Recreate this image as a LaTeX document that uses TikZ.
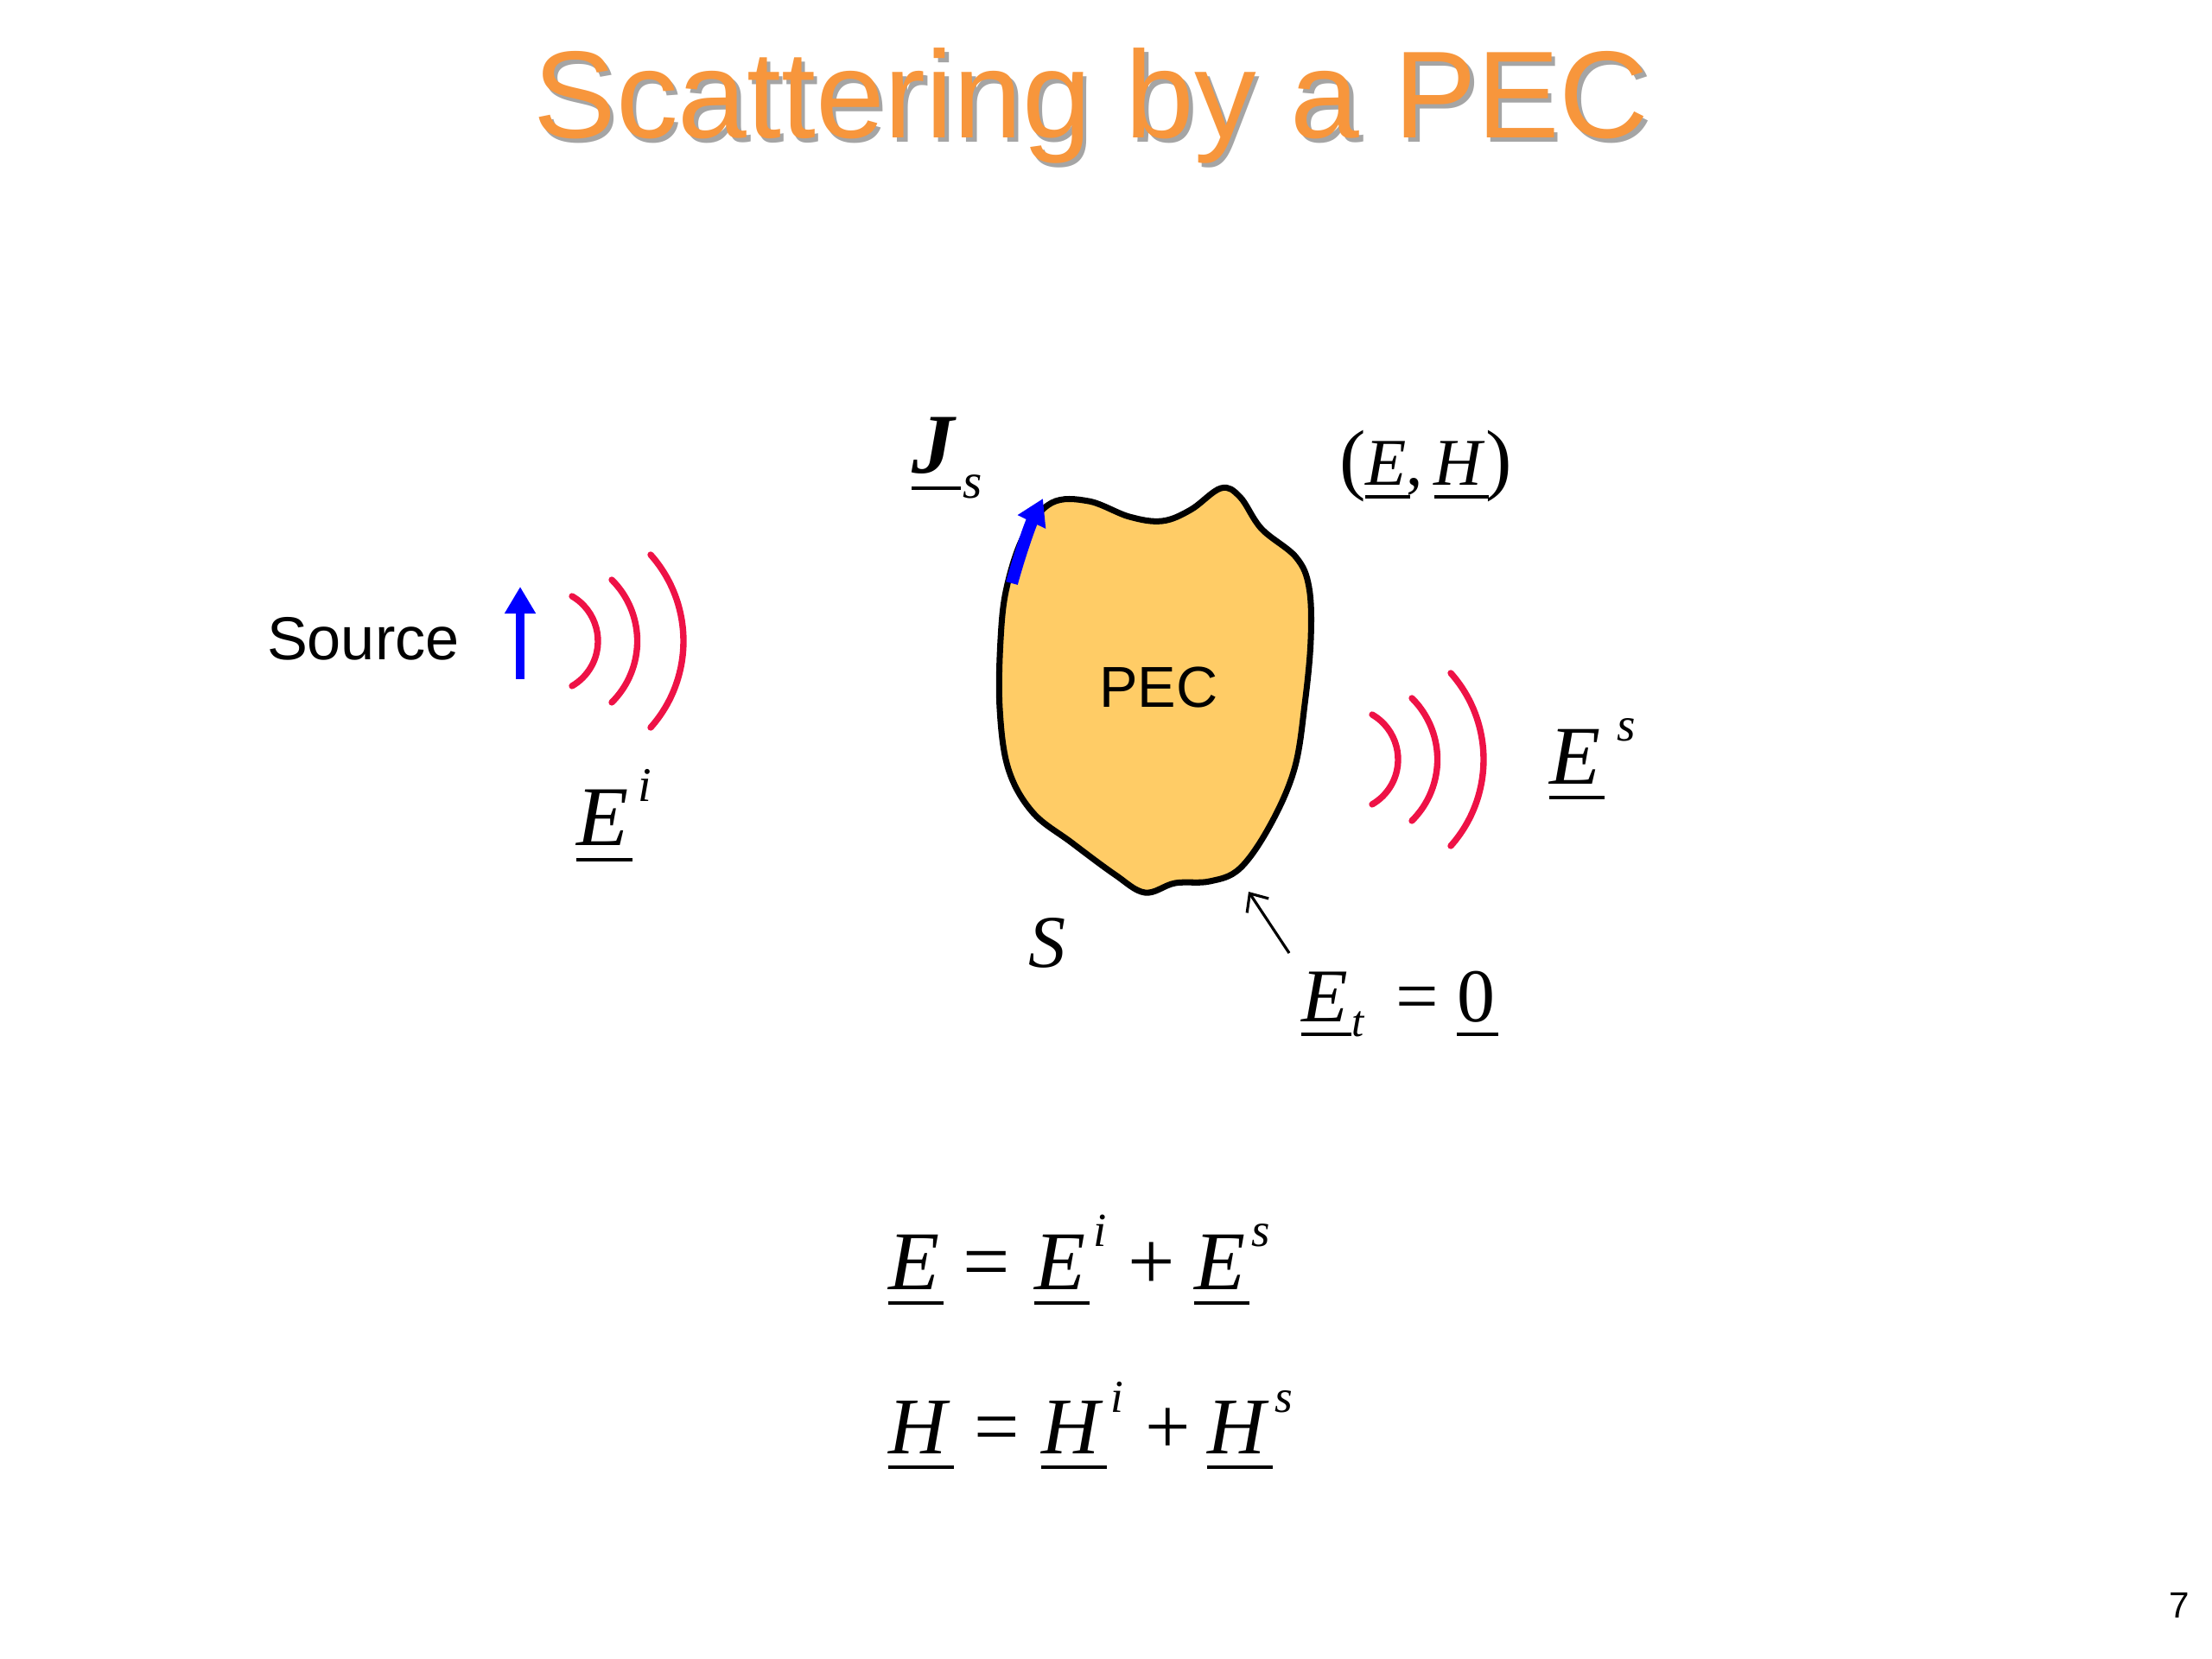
\documentclass[tikz,border=0pt]{standalone}
\usepackage{fontspec}
\setmainfont{Liberation Serif}
\newfontfamily\arialf{Liberation Sans}
\usepackage{graphicx}
\usetikzlibrary{arrows.meta}
\definecolor{titleorange}{RGB}{247,150,60}
\definecolor{shadowgray}{RGB}{165,165,165}
\definecolor{wavered}{RGB}{238,18,70}
\definecolor{pecfill}{RGB}{255,204,102}
\newcommand{\setsz}[1]{\fontsize{#1}{#1}\selectfont}
\newcommand{\ulv}[1]{\leavevmode\setbox0=\hbox{#1}\rlap{\rule[-0.19em]{\dimexpr\wd0+0.05em\relax}{0.042em}}\box0}
\newcommand{\supr}[2][0.08em]{\hspace{#1}\raisebox{0.51em}{\scalebox{0.57}{\itshape #2}}}
\newcommand{\subr}[3]{\hspace{#1}\raisebox{-#2}{\scalebox{0.58}{\itshape #3}}}
\tikzset{
  lbl/.style={inner sep=0pt, outer sep=0pt, anchor=base west},
  wave/.style={draw=wavered, line width=2.1pt, line cap=round},
}
\begin{document}
\begin{tikzpicture}
\useasboundingbox (0,0) rectangle (25.6,-19.2);
% title
\node[font=\arialf\setsz{40.8pt}, text=shadowgray, anchor=base, inner sep=0pt] (titleshadow) at (12.675,-1.65) {Scattering by a PEC};
\node[font=\arialf\setsz{40.8pt}, text=titleorange, anchor=base, inner sep=0pt] (title) at (12.63,-1.60) {Scattering by a PEC};
% source
\node[lbl, font=\arialf\setsz{20pt}] (src) at (3.09,-7.63) {Source};
\coordinate (srcTail) at (6.02,-7.86);
\coordinate (srcTip) at (6.02,-6.79);
\draw[blue, line width=3.1pt, -{Triangle[length=0.31cm, width=0.34cm]}] (srcTail) -- (srcTip);
% incident waves
\draw[wave] (6.62,-6.90) arc[start angle=60, end angle=-60, radius=0.60];
\draw[wave] (7.08,-6.71) arc[start angle=45.2, end angle=-45.2, radius=1.00];
\draw[wave] (7.53,-6.42) arc[start angle=41.6, end angle=-41.6, radius=1.506];
\node[lbl, font=\setsz{28pt}] (Ei) at (6.67,-9.78) {\ulv{\textit{E}}\supr[0.12em]{i}};
% PEC body
\draw[black, line width=2pt, fill=pecfill] plot[smooth cycle, tension=0.6] coordinates {
 (12.17,-5.82) (12.60,-5.80) (13.07,-5.98) (13.45,-6.03) (13.78,-5.90)
 (14.13,-5.65) (14.35,-5.75) (14.60,-6.12) (15.00,-6.45) (15.15,-6.80)
 (15.17,-7.40) (15.10,-8.15) (14.98,-8.90) (14.70,-9.55) (14.35,-10.05)
 (14.00,-10.20) (13.60,-10.22) (13.25,-10.33) (12.90,-10.12) (12.40,-9.75)
 (11.95,-9.40) (11.67,-8.90) (11.57,-8.20) (11.58,-7.40) (11.65,-6.80) (11.85,-6.20) };
\node[font=\arialf\setsz{19pt}, anchor=base, inner sep=0pt] (pec) at (13.41,-8.18) {PEC};
% surface current
\coordinate (jsTail) at (11.71,-6.75);
\coordinate (jsTip) at (12.07,-5.77);
\draw[blue, line width=4pt, -{Triangle[length=0.30cm, width=0.34cm]}] (jsTail) .. controls (11.80,-6.42) and (11.92,-6.08) .. (jsTip);
\node[lbl, font=\setsz{28pt}] (Js) at (10.55,-5.48) {\ulv{\textbf{\textit{J}}}\subr{0.08em}{0.29em}{s}};
% total field label
\node[lbl, font=\setsz{22pt}] (EH) at (15.50,-5.62) {{\setsz{26pt}(}\ulv{\textit{E}},\,\ulv{\textit{H}}{\setsz{26pt})}};
% scattered waves
\draw[wave] (15.88,-8.27) arc[start angle=60, end angle=-60, radius=0.60];
\draw[wave] (16.34,-8.08) arc[start angle=45.2, end angle=-45.2, radius=1.00];
\draw[wave] (16.79,-7.79) arc[start angle=41.6, end angle=-41.6, radius=1.506];
\node[lbl, font=\setsz{27.5pt}] (Es) at (17.93,-9.07) {\ulv{\textit{E}}\supr[0.2em]{s}};
% surface label and boundary condition
\node[lbl, font=\setsz{24.5pt}] (S) at (11.90,-11.19) {\textit{S}};
\coordinate (etTail) at (14.92,-11.03);
\coordinate (etTip) at (14.45,-10.32);
\draw[black, line width=0.9pt, -{Straight Barb[length=0.17cm, width=0.30cm]}] (etTail) -- (etTip);
\node[lbl, font=\setsz{25pt}] (Et) at (15.06,-11.82) {\ulv{\textit{E}}\subr{0.05em}{0.2em}{t}};
\node[lbl, font=\setsz{25pt}] (Eteq) at (16.15,-11.82) {=};
\node[lbl, font=\setsz{25pt}] (Etzero) at (16.86,-11.82) {\ulv{0}};
% equations
\begin{scope}[every node/.style={lbl, font=\setsz{27.5pt}}]
\node (r1lhs) at (10.28,-14.92) {\ulv{\textit{E}}};
\node (r1eq) at (11.14,-14.92) {=};
\node (r1t1) at (11.97,-14.92) {\ulv{\textit{E}}\supr[0.1em]{i}};
\node (r1plus) at (13.05,-14.92) {+};
\node (r1t2) at (13.82,-14.92) {\ulv{\textit{E}}\supr[0.08em]{s}};
\end{scope}
\begin{scope}[every node/.style={lbl, font=\setsz{26.5pt}}]
\node (r2lhs) at (10.28,-16.82) {\ulv{\textit{H}}};
\node (r2eq) at (11.27,-16.82) {=};
\node (r2t1) at (12.05,-16.82) {\ulv{\textit{H}}\supr[0.1em]{i}};
\node (r2plus) at (13.25,-16.82) {+};
\node (r2t2) at (13.97,-16.82) {\ulv{\textit{H}}\supr[0.08em]{s}};
\end{scope}
% page number
\node[font=\arialf\setsz{12pt}, anchor=base, inner sep=0pt] (pgnum) at (25.22,-18.72) {7};
\end{tikzpicture}
\end{document}
